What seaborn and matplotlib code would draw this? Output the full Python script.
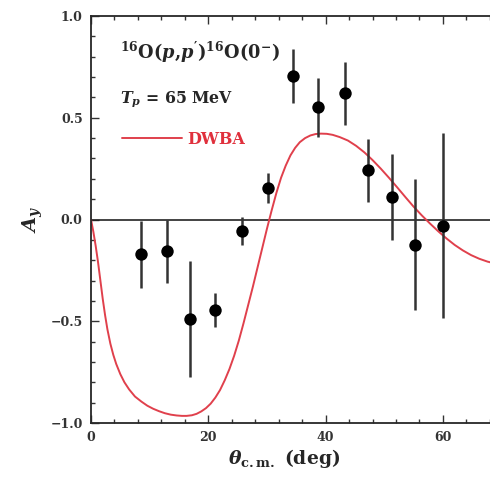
import numpy as np
import pandas as pd
import matplotlib
matplotlib.use("Agg")
import matplotlib.pyplot as plt
import seaborn as sns

# Measured analyzing power
theta_cm = [8.5, 13.0, 16.8, 21.1, 25.7, 30.1, 34.4, 38.7, 43.3, 47.2, 51.3, 55.3, 60.0]
ay = [-0.17, -0.155, -0.49, -0.445, -0.057, 0.155, 0.706, 0.552, 0.621, 0.242, 0.111, -0.123, -0.03]
ay_err = [0.165, 0.155, 0.285, 0.083, 0.068, 0.073, 0.133, 0.145, 0.155, 0.155, 0.21, 0.32, 0.455]

# DWBA calculation
dwba_theta = [0.0, 0.4, 0.8, 1.2, 1.6, 2.0, 2.4, 2.8, 3.3, 3.8, 4.3, 5.0, 5.7, 6.5,
              7.5, 8.6, 9.6, 10.6, 11.6, 12.6, 13.6, 14.6, 15.5, 16.3, 17.2, 18.0,
              18.8, 19.6, 20.4, 21.2, 22.0, 22.8, 23.6, 24.4, 25.2, 26.0, 26.8,
              27.6, 28.4, 29.2, 30.0, 30.8, 31.6, 32.4, 33.2, 34.0, 34.8, 35.6,
              36.5, 37.4, 38.3, 39.2, 40.2, 41.2, 42.4, 43.8, 45.2, 46.6, 48.0,
              49.4, 50.8, 52.2, 53.6, 55.0, 56.4, 57.8, 59.2, 60.6, 62.0, 63.4,
              64.8, 66.2, 67.6, 69.0, 70.0]
dwba_ay = [0.0, -0.06, -0.13, -0.21, -0.30, -0.39, -0.47, -0.54, -0.61, -0.665, -0.71,
           -0.76, -0.80, -0.835, -0.87, -0.895, -0.915, -0.93, -0.942, -0.952,
           -0.959, -0.963, -0.965, -0.965, -0.962, -0.955, -0.943, -0.927, -0.905,
           -0.875, -0.838, -0.79, -0.735, -0.67, -0.595, -0.51, -0.42, -0.33,
           -0.235, -0.14, -0.045, 0.045, 0.13, 0.205, 0.265, 0.315, 0.352, 0.38,
           0.4, 0.413, 0.42, 0.422, 0.421, 0.416, 0.405, 0.388, 0.362, 0.33,
           0.292, 0.25, 0.205, 0.158, 0.11, 0.063, 0.02, -0.02, -0.058, -0.093,
           -0.125, -0.152, -0.175, -0.193, -0.207, -0.217, -0.222]

x_ticks = [0, 20, 40, 60]
y_ticks = [-1.0, -0.5, 0.0, 0.5, 1.0]

sns.set_theme(style="ticks")
plt.rcParams.update({
    "font.family": ["DejaVu Serif"],
    "font.weight": "bold",
    "mathtext.fontset": "custom",
    "mathtext.rm": "DejaVu Serif:bold",
    "mathtext.it": "DejaVu Serif:bold:italic",
    "mathtext.bf": "DejaVu Serif:bold",
    "axes.linewidth": 1.3,
})

data = pd.DataFrame({"theta": theta_cm, "ay": ay, "err": ay_err})
curve = pd.DataFrame({"theta": dwba_theta, "ay": dwba_ay})

fig = plt.figure(figsize=(4.9, 4.8), dpi=100)
ax = fig.add_axes([91 / 490, 57 / 480, (501.6 - 91) / 490, 407 / 480])

ax.axhline(0.0, color="#222222", lw=1.2, zorder=1)

sns.lineplot(data=curve, x="theta", y="ay", ax=ax, color="#e0404c", lw=1.4,
             label="DWBA", zorder=2, sort=False)

ax.errorbar(data["theta"], data["ay"], yerr=data["err"], fmt="none",
            ecolor="#333333", elinewidth=1.8, capsize=0, zorder=3)
sns.scatterplot(data=data, x="theta", y="ay", ax=ax, color="black", s=80,
                edgecolor="black", linewidth=0, zorder=4, legend=False)

ax.set_xlim(0, 70)
ax.set_ylim(-1.0, 1.0)
ax.set_xticks(x_ticks)
ax.set_yticks(y_ticks)
ax.set_xticklabels([str(t) for t in x_ticks])
ax.set_yticklabels([f"{t:.1f}".replace("-", "\u2212") for t in y_ticks])
ax.xaxis.set_minor_locator(matplotlib.ticker.MultipleLocator(4))
ax.yaxis.set_minor_locator(matplotlib.ticker.MultipleLocator(0.1))
ax.tick_params(which="both", direction="in", top=True, right=True,
               labelsize=9, width=1.0, color="#333333")
ax.tick_params(which="major", length=6, pad=6)
ax.tick_params(which="minor", length=3)
for lab in ax.get_xticklabels() + ax.get_yticklabels():
    lab.set_fontweight("bold")
    lab.set_color("#333333")

ax.set_xlabel(r"$\mathit{\theta}_{\rm c.m.}$ (deg)", fontsize=13.5, fontweight="bold",
              labelpad=2)
ax.xaxis.label.set_x(0.47)
ax.set_ylabel(r"$\mathit{A}_{\mathit{y}}$", fontsize=14, labelpad=4)

ax.text(0.07, 0.91, r"$^{16}$O($\mathit{p}$,$\mathit{p}^{\prime}$)$^{16}$O(0$^{-}$)",
        transform=ax.transAxes, fontsize=12.8, fontweight="bold", ha="left", va="center")
ax.text(0.07, 0.795, r"$\mathit{T}_{\mathit{p}}$ = 65 MeV",
        transform=ax.transAxes, fontsize=11.3, fontweight="bold", ha="left", va="center")

leg = ax.legend(loc="upper left", bbox_to_anchor=(0.055, 0.737), frameon=False,
                handlelength=3.8, handletextpad=0.3, prop={"weight": "bold", "size": 11.5},
                labelcolor="#e0303c", borderpad=0)

fig.savefig("out.png", dpi=100, facecolor="white")
